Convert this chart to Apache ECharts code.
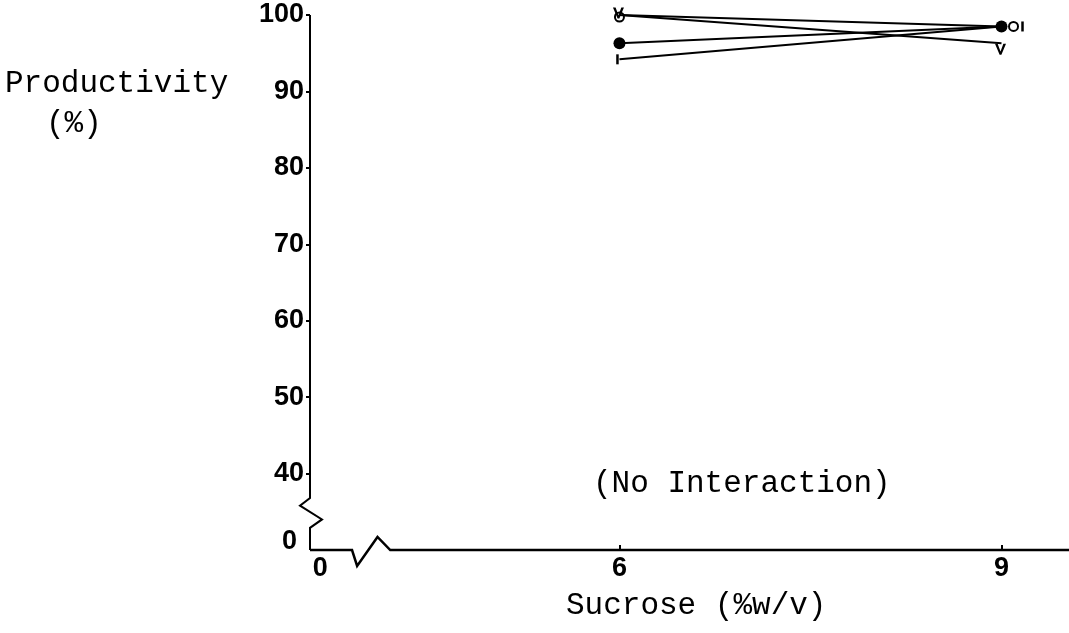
<!DOCTYPE html>
<html>
<head>
<meta charset="utf-8">
<script src="https://cdn.jsdelivr.net/npm/echarts@6/dist/echarts.min.js"></script>
<style>
  html, body { margin: 0; padding: 0; background: #fff; }
  #chart { width: 1069px; height: 633px; }
</style>
</head>
<body>
<div id="chart"></div>
<script>
// ---- data ----
const sucrose = [6, 9];                 // x categories (%w/v)
const seriesV = [100, 96.3];           // "V" symbol series
const seriesO = [100, 98.5];           // open circle series
const seriesDot = [96.3, 98.5];        // filled circle series
const seriesI = [94.2, 98.5];          // "I" symbol series
const yTickValues = [40, 50, 60, 70, 80, 90, 100];
const xTickValues = [6, 9];
const yBreakLabel = '0';
const xBreakLabel = '0';

const X_MIN = 3.57, X_MAX = 9.53, Y_MIN = 30, Y_MAX = 100;

const chart = echarts.init(document.getElementById('chart'), null, { renderer: 'canvas' });

function pairs(ys) { return sucrose.map((x, i) => [x, ys[i]]); }

const black = '#000';
const lineBase = {
  type: 'line',
  lineStyle: { color: black, width: 2 },
  itemStyle: { color: black },
  z: 3,
  clip: false,
  animation: false,
  silent: true
};

const option = {
  backgroundColor: '#fff',
  animation: false,
  grid: { left: 310, right: 0, top: 15, bottom: 83, containLabel: false },
  xAxis: {
    type: 'value',
    min: X_MIN, max: X_MAX,
    axisLine: { show: false },
    splitLine: { show: false },
    axisTick: {
      show: true, inside: true, length: 5,
      customValues: xTickValues,
      lineStyle: { color: black, width: 2 }
    },
    axisLabel: {
      customValues: [X_MIN + 0.08].concat(xTickValues),
      formatter: v => (v < 5 ? xBreakLabel : String(v)),
      color: black, fontFamily: 'Liberation Sans', fontWeight: 'bold', fontSize: 27,
      margin: 5
    }
  },
  yAxis: {
    type: 'value',
    min: Y_MIN, max: Y_MAX,
    axisLine: { show: false },
    splitLine: { show: false },
    axisTick: {
      show: true, inside: false, length: 4,
      customValues: yTickValues,
      lineStyle: { color: black, width: 2 }
    },
    axisLabel: {
      customValues: [Y_MIN].concat(yTickValues),
      formatter: v => (v === Y_MIN ? '{z|' + yBreakLabel + '}' : String(v)),
      color: black, fontFamily: 'Liberation Sans', fontWeight: 'bold', fontSize: 27,
      margin: 6,
      rich: {
        z: { color: black, fontFamily: 'Liberation Sans', fontWeight: 'bold', fontSize: 27, padding: [0, 7, 16, 0] }
      }
    }
  },
  series: [
    Object.assign({}, lineBase, {
      name: 'O',
      data: pairs(seriesO).map((p, i) => ({ value: p, symbolOffset: i === 1 ? [12, 0] : [0, 2] })),
      symbol: 'emptyCircle',
      symbolSize: 9,
      itemStyle: { color: black, borderWidth: 2 }
    }),
    Object.assign({}, lineBase, {
      name: 'V',
      data: pairs(seriesV).map((p, i) => ({ value: p, symbolOffset: i === 1 ? [-1, 6] : [-1, -2] })),
      symbol: 'path://M0,0L2.4,0L5,7L7.6,0L10,0L5.8,10L4.2,10Z',
      symbolSize: [11, 11],
      itemStyle: { color: black },
      z: 4
    }),
    Object.assign({}, lineBase, {
      name: 'dot',
      data: pairs(seriesDot),
      symbol: 'circle',
      symbolSize: 12,
      z: 5
    }),
    Object.assign({}, lineBase, {
      name: 'I',
      data: pairs(seriesI).map((p, i) => ({ value: p, symbolOffset: i === 1 ? [21, 0] : [-2, 0] })),
      symbol: 'rect',
      symbolSize: [2.5, 10]
    })
  ],
  graphic: [
    { id: 'ylab1', type: 'text', left: 5, top: 68,
      style: { text: 'Productivity', font: '31px "Liberation Mono"', fill: black } },
    { id: 'ylab2', type: 'text', left: 46, top: 108,
      style: { text: '(%)', font: '31px "Liberation Mono"', fill: black } },
    { id: 'note', type: 'text', left: 593, top: 468,
      style: { text: '(No Interaction)', font: '31px "Liberation Mono"', fill: black } },
    { id: 'xlab', type: 'text', left: 566, top: 590,
      style: { text: 'Sucrose (%w/v)', font: '31px "Liberation Mono"', fill: black } }
  ]
};

chart.setOption(option);

// Axis lines with break zig-zags, positioned through the chart's own scales.
(function () {
  function px(x, y) { return chart.convertToPixel({ gridIndex: 0 }, [x, y]); }
  const o = px(X_MIN, Y_MIN);
  const topPt = px(X_MIN, Y_MAX);
  const ax = o[0], ay = o[1];
  const yBreak = [36.8, 35.8, 34.0, 32.9].map(v => px(X_MIN, v)[1]);
  const yAxisPts = [
    [ax, topPt[1]],
    [ax, yBreak[0]],
    [ax - 10, yBreak[1]],
    [ax + 12, yBreak[2]],
    [ax, yBreak[3]],
    [ax, ay]
  ];
  const xBreak = [3.90, 3.94, 4.10, 4.20].map(v => px(v, Y_MIN)[0]);
  const rightX = px(X_MAX, Y_MIN)[0];
  const xAxisPts = [
    [ax, ay],
    [xBreak[0], ay],
    [xBreak[1], ay + 16],
    [xBreak[2], ay - 13],
    [xBreak[3], ay],
    [rightX, ay]
  ];
  chart.setOption({
    graphic: [
      { id: 'yaxis', type: 'polyline', shape: { points: yAxisPts }, style: { stroke: black, lineWidth: 2, fill: null }, z: 2 },
      { id: 'xaxis', type: 'polyline', shape: { points: xAxisPts }, style: { stroke: black, lineWidth: 2.5, fill: null }, z: 2 }
    ]
  });
})();
</script>
</body>
</html>
